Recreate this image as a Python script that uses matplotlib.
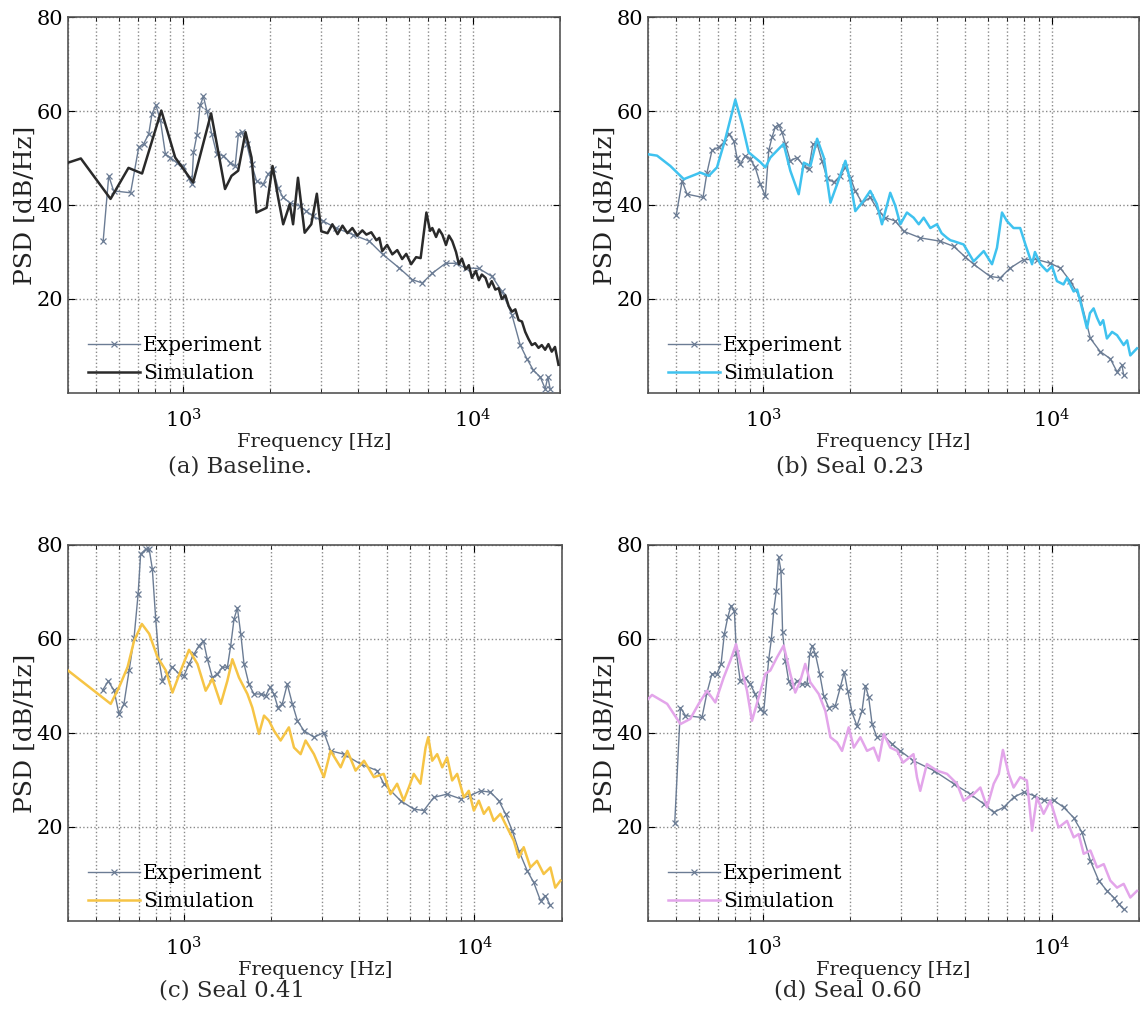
import numpy as np
import matplotlib
matplotlib.use("Agg")
import matplotlib.pyplot as plt

plt.rcParams['font.family'] = ['DejaVu Serif']
plt.rcParams['mathtext.fontset'] = 'dejavuserif'

# ---------------- data ----------------
# Panel (a) Baseline
a_exp_f = [529, 553, 575, 658, 702, 730, 760, 780, 805, 834, 868, 902, 951, 1002, 1043, 1071, 1085,
           1114, 1144, 1174, 1206, 1255, 1306, 1377, 1452, 1511, 1550, 1592, 1656, 1722, 1792, 1888,
           1964, 2043, 2125, 2211, 2332, 2522, 2661, 2806, 3035, 3377, 3850, 4393, 4880, 5570, 6185,
           6693, 7246, 8054, 8726, 9440, 10490, 11650, 12610, 13650, 14580, 15370, 16200, 17090,
           17780, 18160, 18490]
a_exp_db = [32.3, 46.2, 43.0, 42.6, 52.3, 53.0, 55.1, 59.4, 61.2, 58.0, 50.8, 50.1, 49.0, 48.3, 45.8,
            44.4, 51.2, 54.8, 61.2, 63.1, 60.1, 55.1, 50.8, 50.5, 49.0, 48.3, 55.1, 55.5, 53.0, 48.7,
            45.1, 44.4, 46.6, 47.6, 43.7, 41.6, 40.5, 39.8, 38.7, 37.6, 36.6, 35.1, 33.7, 32.3, 29.5,
            26.6, 24.1, 23.4, 25.5, 27.6, 27.6, 26.6, 26.5, 24.8, 21.6, 16.6, 10.2, 7.3, 4.8, 3.4,
            0.9, 3.4, 0.9]
a_sim_f = [400, 443, 561, 647, 721, 840, 938, 1030, 1082, 1248, 1306, 1394, 1468, 1548, 1641, 1721,
           1790, 1940, 2034, 2126, 2214, 2333, 2395, 2490, 2626, 2768, 2893, 2997, 3150, 3273, 3412,
           3548, 3690, 3837, 3990, 4155, 4290, 4460, 4645, 4755, 4866, 5060, 5272, 5483, 5702, 5890,
           6124, 6370, 6604, 6913, 7116, 7246, 7466, 7645, 7845, 8079, 8270, 8493, 8750, 8953, 9165,
           9440, 9688, 9930, 10240, 10490, 10740, 11060, 11350, 11620, 11960, 12280, 12590, 12950,
           13300, 13650, 14020, 14390, 14780, 15170, 15570, 15990, 16410, 16860, 17300, 17770,
           18240, 18730, 19220, 19760]
a_sim_db = [49.0, 49.9, 41.3, 47.9, 46.7, 60.1, 50.1, 46.6, 44.8, 59.5, 53.0, 43.4, 46.2, 47.3, 55.5,
            50.1, 38.4, 39.4, 48.3, 41.6, 35.9, 40.2, 35.9, 45.8, 34.1, 35.9, 42.4, 34.4, 34.0, 35.9,
            33.8, 35.6, 34.0, 35.1, 33.5, 34.6, 33.7, 34.2, 32.5, 33.0, 30.2, 31.5, 29.5, 30.4, 28.5,
            29.6, 27.4, 28.9, 28.7, 38.4, 34.5, 35.1, 33.2, 34.8, 33.7, 31.5, 33.5, 32.3, 30.0, 27.4,
            28.6, 26.3, 27.2, 24.5, 26.0, 24.0, 25.2, 24.5, 22.5, 23.8, 22.0, 22.3, 20.0, 20.8, 18.5,
            17.3, 17.8, 15.5, 15.2, 13.0, 11.5, 10.2, 10.6, 9.6, 10.2, 9.2, 10.4, 8.8, 9.8, 6.0]

# Panel (b) Seal 0.23
b_exp_f = [501, 525, 546, 620, 640, 666, 703, 731, 761, 792, 813, 834, 868, 903, 940, 979, 1019, 1047,
           1074, 1103, 1133, 1163, 1195, 1243, 1311, 1384, 1439, 1489, 1539, 1600, 1664, 1757, 1850,
           1927, 2005, 2086, 2201, 2350, 2512, 2649, 2870, 3069, 3501, 4106, 4568, 5000, 5354, 6109,
           6621, 7172, 7974, 8871, 9865, 10680, 11570, 12530, 13580, 14690, 15910, 16790, 17470,
           17700]
b_exp_db = [37.9, 45.1, 42.3, 41.6, 46.9, 51.6, 52.3, 53.3, 55.1, 53.7, 50.1, 48.7, 50.5, 49.8, 48.0,
            44.4, 41.9, 51.6, 54.4, 56.6, 57.1, 55.5, 53.0, 49.4, 50.1, 48.3, 47.6, 53.0, 53.0, 49.4,
            45.8, 44.8, 46.2, 48.0, 45.8, 43.0, 40.5, 41.6, 38.7, 37.3, 36.6, 34.4, 33.0, 32.3, 31.2,
            29.0, 27.4, 24.8, 24.5, 26.6, 28.4, 28.4, 27.6, 26.6, 23.8, 20.2, 11.6, 8.8, 7.3, 4.5,
            5.9, 3.8]
b_sim_f = [400, 430, 478, 532, 607, 649, 693, 741, 802, 846, 892, 980, 1019, 1060, 1148, 1179, 1243,
           1329, 1384, 1459, 1539, 1623, 1711, 1804, 1928, 2005, 2086, 2229, 2350, 2477, 2580, 2756,
           2870, 2986, 3148, 3320, 3459, 3597, 3793, 3999, 4150, 4335, 4450, 4571, 4945, 5355, 5805,
           6200, 6450, 6714, 6980, 7360, 7760, 8090, 8530, 8730, 9120, 9615, 10000, 10400, 10960,
           11270, 11880, 12220, 12530, 13210, 13530, 13930, 14320, 14690, 15030, 15490, 16140,
           16790, 17700, 18190, 18660, 19680]
b_sim_db = [50.8, 50.5, 48.3, 45.5, 46.9, 46.2, 48.0, 54.1, 62.4, 57.3, 51.2, 49.1, 48.0, 50.1, 52.3,
            53.0, 47.3, 42.3, 49.0, 48.3, 54.1, 50.1, 40.5, 44.4, 49.4, 45.1, 38.7, 40.9, 43.0, 40.2,
            35.9, 42.6, 39.8, 35.9, 38.4, 37.3, 35.9, 37.3, 35.1, 35.9, 34.0, 33.0, 32.5, 32.3, 31.6,
            28.0, 30.2, 27.4, 30.9, 38.4, 36.6, 35.1, 35.1, 31.6, 27.4, 30.0, 27.4, 25.9, 27.0, 23.8,
            23.1, 24.5, 21.6, 22.0, 19.5, 13.8, 17.0, 18.0, 16.0, 14.5, 15.5, 11.6, 13.0, 12.3, 10.2,
            11.2, 8.0, 9.5]

# Panel (c) Seal 0.41
c_exp_f = [526, 550, 576, 599, 623, 649, 675, 697, 711, 740, 761, 780, 801, 823, 845, 879, 915, 963,
           1002, 1043, 1085, 1129, 1169, 1206, 1255, 1306, 1359, 1413, 1451, 1490, 1530, 1571, 1612,
           1676, 1744, 1839, 1913, 1980, 2043, 2109, 2183, 2271, 2364, 2461, 2591, 2806, 3036, 3200,
           3557, 4056, 4629, 4878, 5571, 6185, 6693, 7246, 8054, 8953, 9688, 10490, 11350, 12130,
           12790, 13490, 14200, 15180, 15990, 16870, 17540, 18240]
c_exp_db = [49.1, 51.0, 49.1, 44.0, 46.2, 53.3, 60.3, 69.6, 78.1, 79.1, 79.1, 74.9, 64.3, 55.4, 51.1,
            52.6, 54.0, 52.6, 52.2, 54.7, 56.8, 58.6, 59.6, 55.7, 51.8, 52.6, 54.0, 54.0, 58.6, 64.3,
            66.6, 61.1, 54.7, 50.4, 48.3, 48.3, 47.9, 49.7, 48.3, 45.4, 46.2, 50.4, 46.2, 42.6, 40.5,
            39.1, 40.1, 36.2, 35.5, 33.4, 32.0, 29.2, 25.6, 23.8, 23.5, 26.3, 27.0, 26.0, 26.7, 27.7,
            27.4, 25.6, 22.8, 19.2, 15.0, 10.7, 8.2, 4.3, 5.4, 3.3]
c_sim_f = [400, 561, 599, 641, 675, 718, 761, 813, 868, 915, 977, 1043, 1115, 1190, 1255, 1341, 1413,
           1470, 1549, 1656, 1722, 1815, 1889, 1965, 2043, 2154, 2300, 2395, 2524, 2625, 2805, 3035,
           3200, 3466, 3655, 3900, 4170, 4510, 4875, 5140, 5420, 5710, 5945, 6185, 6520, 6790, 6934,
           7155, 7444, 7745, 8054, 8380, 8720, 9190, 9560, 9950, 10350, 10770, 11200, 11650, 12280,
           12950, 13650, 14200, 14770, 15570, 16410, 17300, 18240, 18960, 19760]
c_sim_db = [53.3, 46.2, 49.7, 54.0, 59.6, 63.2, 61.1, 56.1, 53.3, 48.6, 53.3, 57.7, 54.7, 49.0, 51.5,
            46.2, 51.1, 55.7, 51.8, 48.3, 45.4, 39.8, 43.7, 42.6, 40.5, 38.4, 41.2, 36.9, 35.5, 38.4,
            35.5, 30.6, 36.2, 32.7, 36.2, 32.0, 34.1, 30.6, 31.3, 27.0, 29.2, 25.6, 28.4, 31.3, 29.2,
            36.9, 39.1, 34.1, 35.5, 32.7, 34.8, 29.9, 31.3, 26.3, 27.7, 23.5, 25.6, 22.8, 24.2, 21.3,
            22.8, 19.9, 17.1, 13.5, 15.7, 11.4, 12.8, 10.0, 11.4, 7.1, 8.6]

# Panel (d) Seal 0.60
d_exp_f = [495, 518, 539, 615, 640, 666, 693, 716, 735, 755, 775, 796, 809, 834, 868, 903, 940, 979,
           1005, 1047, 1069, 1089, 1112, 1133, 1154, 1169, 1195, 1227, 1260, 1311, 1364, 1420, 1451,
           1479, 1518, 1571, 1622, 1688, 1779, 1851, 1910, 1963, 2032, 2114, 2201, 2261, 2321, 2385,
           2478, 2617, 2793, 2985, 3317, 3900, 4570, 5214, 5807, 6285, 6807, 7368, 7974, 8641, 9354,
           10130, 10970, 11880, 12690, 13580, 14510, 15510, 16350, 17020, 17700]
d_exp_db = [20.9, 45.4, 43.7, 43.3, 48.6, 52.6, 52.6, 54.7, 61.1, 64.6, 67.1, 66.0, 57.1, 51.1, 51.8,
            50.4, 48.3, 45.1, 44.4, 55.7, 60.0, 66.0, 70.3, 77.4, 74.5, 61.4, 55.4, 51.1, 49.7, 51.1,
            50.4, 50.4, 56.8, 58.6, 56.8, 52.6, 47.9, 45.4, 45.8, 49.7, 52.9, 49.0, 44.4, 41.5, 44.7,
            50.1, 47.6, 41.9, 39.1, 39.4, 37.7, 36.2, 34.1, 32.0, 29.2, 27.0, 24.9, 23.1, 24.2, 26.3,
            27.4, 26.7, 25.7, 25.7, 24.2, 22.0, 18.9, 12.8, 8.6, 6.4, 5.0, 3.6, 2.5]
d_sim_f = [400, 413, 466, 518, 560, 599, 640, 684, 731, 771, 807, 846, 880, 916, 966, 1019, 1060, 1118,
           1179, 1243, 1293, 1346, 1400, 1457, 1559, 1643, 1711, 1804, 1877, 1980, 2061, 2172, 2291,
           2416, 2514, 2617, 2756, 2913, 3050, 3317, 3410, 3500, 3690, 3997, 4333, 4690, 4945, 5355,
           5650, 5960, 6285, 6545, 6763, 7080, 7365, 7760, 8185, 8530, 8870, 9355, 9865, 10540,
           11270, 11890, 12370, 12870, 13580, 14320, 15100, 15910, 16790, 17700, 18660, 19680]
d_sim_db = [47.2, 48.1, 46.2, 41.9, 43.0, 46.2, 49.0, 46.5, 51.8, 55.4, 58.9, 53.3, 49.0, 42.6, 47.6,
            52.6, 53.3, 56.1, 58.6, 52.6, 48.6, 51.1, 54.7, 50.8, 48.3, 44.7, 39.1, 38.0, 36.2, 41.2,
            36.9, 39.1, 36.2, 36.9, 34.1, 39.8, 36.9, 36.2, 33.7, 35.5, 30.6, 27.7, 33.4, 32.0, 31.3,
            29.2, 25.6, 27.0, 28.4, 24.2, 29.2, 31.3, 36.4, 31.3, 28.4, 30.6, 29.9, 19.2, 26.3, 22.8,
            25.6, 19.9, 21.3, 17.8, 18.5, 14.3, 15.0, 11.4, 12.1, 8.6, 7.1, 7.9, 5.0, 6.4]

captions = ["(a) Baseline.", "(b) Seal 0.23", "(c) Seal 0.41", "(d) Seal 0.60"]
sim_colors = ["#2a2a2a", "#3fc2ef", "#f6c445", "#e3a5ea"]
exp_color = "#6b7c94"
y_ticks = [20, 40, 60, 80]
x_ticks = [1e3, 1e4]
x_ticklabels = [r"$10^3$", r"$10^4$"]

panels = [
    (a_exp_f, a_exp_db, a_sim_f, a_sim_db),
    (b_exp_f, b_exp_db, b_sim_f, b_sim_db),
    (c_exp_f, c_exp_db, c_sim_f, c_sim_db),
    (d_exp_f, d_exp_db, d_sim_f, d_sim_db),
]

W, H = 1141, 1031
fig = plt.figure(figsize=(W / 100, H / 100), dpi=100)

# axes boxes in pixels: (left, top, right, bottom)
boxes = [(68, 17, 560, 393), (648, 17, 1139, 393), (68, 545, 562, 921), (648, 545, 1139, 921)]
caption_pos = [(240, 467), (850, 467), (232, 991), (848, 991)]

for i, (ef, ed, sf, sd) in enumerate(panels):
    l, t, r, b = boxes[i]
    ax = fig.add_axes([l / W, 1 - b / H, (r - l) / W, (b - t) / H])
    ax.plot(ef, ed, color=exp_color, lw=1.0, marker='x', ms=4.5, mew=0.9, label="Experiment", zorder=3)
    ax.plot(sf, sd, color=sim_colors[i], lw=1.8, label="Simulation", zorder=4)
    ax.set_xscale('log')
    ax.set_xlim(400, 20000)
    ax.set_ylim(0, 80)
    ax.set_yticks(y_ticks)
    ax.set_xticks(x_ticks)
    ax.set_xticklabels(x_ticklabels)
    ax.tick_params(which='both', direction='in', top=True, right=True, labelsize=15)
    ax.tick_params(axis='x', which='major', pad=11)
    ax.tick_params(which='major', length=5)
    ax.tick_params(which='minor', length=3)
    ax.grid(True, which='major', linestyle=':', color='#8a8a8a', lw=1.0)
    ax.grid(True, which='minor', axis='x', linestyle=':', color='#8a8a8a', lw=1.0)
    for s in ax.spines.values():
        s.set_color('#555555')
        s.set_linewidth(1.2)
    ax.set_xlabel("Frequency [Hz]", fontsize=14, labelpad=1, color='#1e1e1e')
    ax.set_ylabel("PSD [dB/Hz]", fontsize=18, labelpad=0, color='#222222')
    ax.legend(loc='lower left', frameon=False, fontsize=14.5, handlelength=2.6,
              handletextpad=0.15, labelspacing=0.45, borderaxespad=0.1,
              bbox_to_anchor=(0.02, 0.0))
    cx, cy = caption_pos[i]
    fig.text(cx / W, 1 - cy / H, captions[i], ha='center', va='center', fontsize=16.5, color='#2a2a2a')

fig.savefig("out.png", dpi=100)
